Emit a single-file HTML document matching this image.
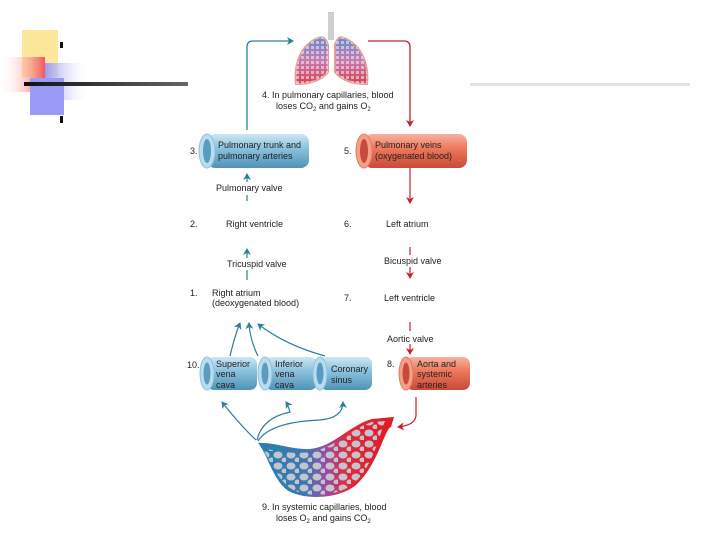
<!DOCTYPE html>
<html><head><meta charset="utf-8"><style>
html,body{margin:0;padding:0;background:#fff;}
body{width:720px;height:540px;overflow:hidden;position:relative;font-family:"Liberation Sans",sans-serif;}
svg text{font-family:"Liberation Sans",sans-serif;font-size:9px;fill:#222;}
</style></head><body>
<svg width="720" height="540" viewBox="0 0 720 540" xmlns="http://www.w3.org/2000/svg">
<defs>
<linearGradient id="redg" x1="1" x2="0"><stop offset="0" stop-color="#f05858"/><stop offset="1" stop-color="#fff" stop-opacity="0"/></linearGradient>
<linearGradient id="blug" x1="0" x2="1"><stop offset="0" stop-color="#9a9af8"/><stop offset="1" stop-color="#fff" stop-opacity="0"/></linearGradient>
<linearGradient id="lineg" x1="0" x2="1"><stop offset="0" stop-color="#111"/><stop offset="1" stop-color="#666"/></linearGradient>
<linearGradient id="tb" x1="0" y1="0" x2="0" y2="1"><stop offset="0" stop-color="#cfe6f3"/><stop offset="0.4" stop-color="#8ec3de"/><stop offset="1" stop-color="#4f93b8"/></linearGradient>
<linearGradient id="tr" x1="0" y1="0" x2="0" y2="1"><stop offset="0" stop-color="#f7b3a0"/><stop offset="0.4" stop-color="#ee7a5f"/><stop offset="1" stop-color="#c94a35"/></linearGradient>
<linearGradient id="cap" x1="0" x2="1"><stop offset="0" stop-color="#2a7fb0"/><stop offset="0.35" stop-color="#3c78b0"/><stop offset="0.5" stop-color="#9a4aa8"/><stop offset="0.65" stop-color="#e02a3a"/><stop offset="1" stop-color="#e01a25"/></linearGradient>
<linearGradient id="lung" x1="0" y1="0" x2="0" y2="1"><stop offset="0" stop-color="#5b8fd0"/><stop offset="0.5" stop-color="#c97ab0"/><stop offset="1" stop-color="#d8404c"/></linearGradient>
<marker id="ab" markerWidth="8" markerHeight="8" refX="6" refY="4" orient="auto" markerUnits="userSpaceOnUse"><path d="M0,0 L7,4 L0,8 L2,4z" fill="#2a7fa0"/></marker>
<marker id="ar" markerWidth="8" markerHeight="8" refX="6" refY="4" orient="auto" markerUnits="userSpaceOnUse"><path d="M0,0 L7,4 L0,8 L2,4z" fill="#c8202a"/></marker>
<pattern id="cells" width="13" height="11" patternUnits="userSpaceOnUse"><ellipse cx="5" cy="4" rx="4.5" ry="3.5" fill="#c4c4cc"/><ellipse cx="11.5" cy="9" rx="3" ry="2.5" fill="#c4c4cc"/></pattern>
<pattern id="lc" width="5" height="5" patternUnits="userSpaceOnUse"><rect x="1" y="1" width="3" height="3" fill="#f4e8f0"/></pattern>
<clipPath id="capclip"><path d="M262,448 C280,452 295,454 310,452 C335,448 352,428 372,422 L385,421 C378,440 372,468 352,485 C335,497 305,498 290,488 C275,476 270,460 262,448Z"/></clipPath>
</defs>

<!-- decoration -->
<rect x="22" y="30" width="36" height="47" fill="#fde79a"/>
<rect x="0" y="57" width="45" height="35" fill="url(#redg)"/>
<rect x="45" y="63" width="45" height="37" fill="url(#blug)"/>
<rect x="30" y="78" width="34" height="37" fill="#9a9af8"/>
<rect x="24" y="82" width="164" height="4" fill="url(#lineg)"/>
<rect x="60" y="42" width="3" height="6" fill="#111"/>
<rect x="60" y="116" width="3" height="7" fill="#111"/>
<rect x="470" y="83" width="220" height="3" fill="#e4e4e4"/>

<!-- lungs -->
<rect x="328" y="12" width="6" height="28" fill="#cfcfcf"/>
<path d="M318,38 C300,45 294,65 296,84 C310,84 322,80 328,72 L328,45 C326,38 322,36 318,38Z" fill="url(#lung)" stroke="#e59a9a" stroke-width="2"/>
<path d="M344,38 C362,45 369,65 367,84 C353,84 341,80 335,72 L335,45 C337,38 340,36 344,38Z" fill="url(#lung)" stroke="#e59a9a" stroke-width="2"/>
<path d="M318,38 C300,45 294,65 296,84 C310,84 322,80 328,72 L328,45 C326,38 322,36 318,38Z" fill="url(#lc)" opacity="0.6"/>
<path d="M344,38 C362,45 369,65 367,84 C353,84 341,80 335,72 L335,45 C337,38 340,36 344,38Z" fill="url(#lc)" opacity="0.6"/>

<!-- pulmonary loop arrows -->
<path d="M247,130 L247,47 Q247,41 253,41 L293,41" fill="none" stroke="#2a7fa0" stroke-width="1.3" marker-end="url(#ab)"/>
<path d="M368,41 L404,41 Q410,41 410,47 L410,126" fill="none" stroke="#c8202a" stroke-width="1.3" marker-end="url(#ar)"/>
<text x="262" y="98">4.  In pulmonary capillaries, blood</text>
<text x="276" y="109">loses CO<tspan font-size="6" dy="2">2</tspan><tspan dy="-2"> and gains O</tspan><tspan font-size="6" dy="2">2</tspan></text>

<!-- tube 3 -->
<rect x="207" y="134" width="102" height="34" rx="8" fill="url(#tb)"/>
<ellipse cx="207" cy="151" rx="8" ry="17" fill="#b9dcee" stroke="#8ec3de"/>
<ellipse cx="207" cy="151" rx="4" ry="12" fill="#5a9cc0"/>
<text x="190" y="154">3.</text>
<text x="218" y="148">Pulmonary trunk and</text>
<text x="218" y="159">pulmonary arteries</text>
<!-- tube 5 -->
<rect x="364" y="134" width="103" height="34" rx="8" fill="url(#tr)"/>
<ellipse cx="364" cy="151" rx="8" ry="17" fill="#f3a08a" stroke="#e57a60"/>
<ellipse cx="364" cy="151" rx="4" ry="12" fill="#c84a38"/>
<text x="344" y="154">5.</text>
<text x="375" y="148">Pulmonary veins</text>
<text x="375" y="159">(oxygenated blood)</text>

<!-- middle -->
<path d="M247,182 L247,174" stroke="#2a7fa0" stroke-width="1.2" marker-end="url(#ab)"/>
<path d="M247,195 L247,201" stroke="#2a7fa0" stroke-width="1.2"/>
<text x="216" y="191">Pulmonary valve</text>
<path d="M410,168 L410,203" stroke="#c8202a" stroke-width="1.2" marker-end="url(#ar)"/>
<text x="190" y="227">2.</text><text x="226" y="227">Right ventricle</text>
<text x="344" y="227">6.</text><text x="386" y="227">Left atrium</text>
<path d="M247,258 L247,249" stroke="#2a7fa0" stroke-width="1.2" marker-end="url(#ab)"/>
<path d="M247,270 L247,280" stroke="#2a7fa0" stroke-width="1.2"/>
<text x="227" y="267">Tricuspid valve</text>
<path d="M410,247 L410,255" stroke="#c8202a" stroke-width="1.2"/>
<path d="M410,267 L410,278" stroke="#c8202a" stroke-width="1.2" marker-end="url(#ar)"/>
<text x="384" y="264">Bicuspid valve</text>
<text x="190" y="296">1.</text><text x="212" y="296">Right atrium</text><text x="212" y="306">(deoxygenated blood)</text>
<text x="344" y="301">7.</text><text x="384" y="301">Left ventricle</text>
<path d="M410,322 L410,331" stroke="#c8202a" stroke-width="1.2"/>
<path d="M410,344 L410,354" stroke="#c8202a" stroke-width="1.2" marker-end="url(#ar)"/>
<text x="387" y="342">Aortic valve</text>

<!-- arrows into right atrium -->
<path d="M230,356 Q235,335 240,323" fill="none" stroke="#2a7fa0" stroke-width="1.2" marker-end="url(#ab)"/>
<path d="M258,356 Q250,340 249,323" fill="none" stroke="#2a7fa0" stroke-width="1.2" marker-end="url(#ab)"/>
<path d="M325,356 Q285,345 258,324" fill="none" stroke="#2a7fa0" stroke-width="1.2" marker-end="url(#ab)"/>

<!-- bottom tubes -->
<rect x="207" y="357" width="50" height="33" rx="7" fill="url(#tb)"/>
<ellipse cx="207" cy="373.5" rx="7" ry="16.5" fill="#b9dcee" stroke="#8ec3de"/>
<ellipse cx="207" cy="373.5" rx="3.5" ry="11" fill="#5a9cc0"/>
<rect x="265" y="357" width="52" height="33" rx="7" fill="url(#tb)"/>
<ellipse cx="265" cy="373.5" rx="7" ry="16.5" fill="#b9dcee" stroke="#8ec3de"/>
<ellipse cx="265" cy="373.5" rx="3.5" ry="11" fill="#5a9cc0"/>
<rect x="320" y="357" width="52" height="33" rx="7" fill="url(#tb)"/>
<ellipse cx="320" cy="373.5" rx="7" ry="16.5" fill="#b9dcee" stroke="#8ec3de"/>
<ellipse cx="320" cy="373.5" rx="3.5" ry="11" fill="#5a9cc0"/>
<rect x="406" y="357" width="64" height="33" rx="7" fill="url(#tr)"/>
<ellipse cx="406" cy="373.5" rx="7" ry="16.5" fill="#f3a08a" stroke="#e57a60"/>
<ellipse cx="406" cy="373.5" rx="3.5" ry="11" fill="#c84a38"/>
<text x="187" y="368">10.</text>
<text x="216" y="367">Superior</text><text x="216" y="377">vena</text><text x="216" y="388">cava</text>
<text x="275" y="367">Inferior</text><text x="275" y="377">vena</text><text x="275" y="388">cava</text>
<text x="331" y="372">Coronary</text><text x="331" y="383">sinus</text>
<text x="387" y="367">8.</text>
<text x="417" y="367">Aorta and</text><text x="417" y="377">systemic</text><text x="417" y="388">arteries</text>

<!-- capillary bed -->
<path d="M258,443 C275,442 292,450 310,449 C333,447 350,425 372,419 L394,417 L391,427 C385,428 378,465 356,485 C338,500 302,500 287,490 C272,478 268,455 258,443Z" fill="url(#cap)"/>
<rect x="260" y="415" width="130" height="85" fill="url(#cells)" clip-path="url(#capclip)"/>
<path d="M256,440 Q240,425 222,402" fill="none" stroke="#2a7fa0" stroke-width="1.2" marker-end="url(#ab)"/>
<path d="M257,440 Q262,418 290,412 Q288,405 286,402" fill="none" stroke="#2a7fa0" stroke-width="1.2" marker-end="url(#ab)"/>
<path d="M258,441 Q270,422 320,420 Q343,418 343,402" fill="none" stroke="#2a7fa0" stroke-width="1.2" marker-end="url(#ab)"/>
<path d="M416,397 L416,415 Q416,425 398,427" fill="none" stroke="#c8202a" stroke-width="1.2" marker-end="url(#ar)"/>
<text x="262" y="510">9.  In systemic capillaries, blood</text>
<text x="276" y="521">loses O<tspan font-size="6" dy="2">2</tspan><tspan dy="-2"> and gains CO</tspan><tspan font-size="6" dy="2">2</tspan></text>
</svg>
</body></html>
